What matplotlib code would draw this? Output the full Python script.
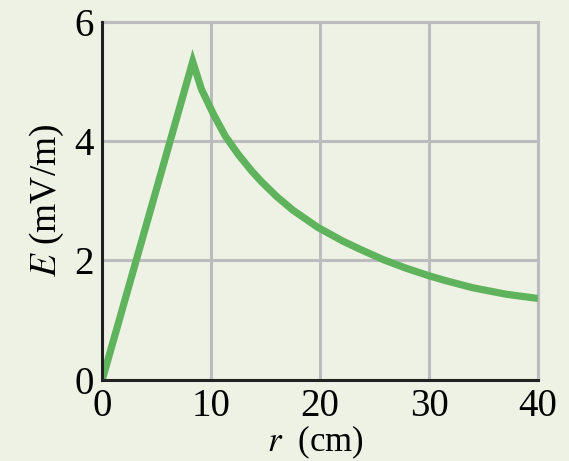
import matplotlib
matplotlib.use("Agg")
import matplotlib.pyplot as plt

# values
r_cm = [0, 8.3, 9.1, 10.2, 11.3, 12.5, 13.7, 14.6, 16.0, 17.5,
        19.8, 22.1, 23.6, 25.8, 28.0, 30, 31.5, 34.0, 37.1, 40]
e_mv = [0, 5.33, 4.87, 4.45, 4.08, 3.77, 3.50, 3.32, 3.07, 2.84,
        2.55, 2.32, 2.19, 2.01, 1.86, 1.74, 1.66, 1.54, 1.43, 1.36]
x_ticks = [0, 10, 20, 30, 40]
y_ticks = [0, 2, 4, 6]

BG = "#eef2e4"
GRID = "#bbbbc0"
LINE = "#5fb35c"

plt.rcParams["font.family"] = ["Liberation Serif", "DejaVu Serif"]
plt.rcParams["mathtext.fontset"] = "stix"

fig = plt.figure(figsize=(5.69, 4.61), dpi=100, facecolor=BG)
ax = fig.add_axes([0.1798, 0.1766, 0.7657, 0.7764], facecolor=BG)

ax.plot(r_cm, e_mv, color=LINE, lw=5.2, solid_joinstyle="miter",
        solid_capstyle="butt", zorder=3)

ax.set_xlim(0, 40)
ax.set_ylim(0, 6)
ax.set_xticks(x_ticks)
ax.set_yticks(y_ticks)
ax.grid(True, color=GRID, lw=2.2)
ax.set_axisbelow(True)

for side in ("left", "bottom"):
    ax.spines[side].set_color("#222222")
    ax.spines[side].set_linewidth(2.2)
    ax.spines[side].set_zorder(4)
for side in ("top", "right"):
    ax.spines[side].set_color(GRID)
    ax.spines[side].set_linewidth(2.2)

ax.tick_params(length=0, labelsize=28, pad=6)
ax.set_xlabel(r"$r$  (cm)", fontsize=25)
ax.xaxis.set_label_coords(0.49, -0.122)
ax.set_ylabel(r"$E$ (mV/m)", fontsize=27, labelpad=6)

fig.savefig("out.png", dpi=100, facecolor=BG)
